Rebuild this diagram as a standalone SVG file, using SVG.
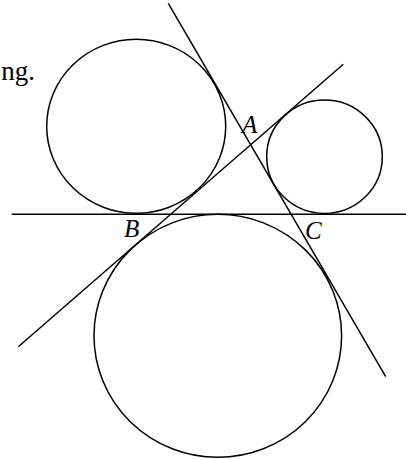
<svg xmlns="http://www.w3.org/2000/svg" width="406" height="459" viewBox="0 0 406 459">
<style>
.c{fill:none;stroke:#000;stroke-width:1.5}
.l{fill:none;stroke:#000;stroke-width:1.5}
.t{font-family:"Liberation Serif",serif;font-size:25px;fill:#000}
.i{font-style:italic}
</style>
<rect width="406" height="459" fill="#fff"/>
<text class="t" x="35" y="80" text-anchor="end" style="font-size:27px">ng.</text>
<g id="circle-left"><ellipse class="c" cx="136.2" cy="126.3" rx="89.5" ry="87"/></g>
<g id="circle-right"><ellipse class="c" cx="324.5" cy="156.7" rx="57.8" ry="56.7"/></g>
<g id="circle-bottom"><ellipse class="c" cx="217.8" cy="335.8" rx="123.8" ry="121.5"/></g>
<g id="lines">
<line class="l" x1="11.7" y1="214.3" x2="406" y2="214.3"/>
<line class="l" x1="168.3" y1="3.3" x2="385.7" y2="376.7"/>
<line class="l" x1="18.3" y1="346.7" x2="343.3" y2="64.3"/>
</g>
<g id="label-A"><text class="t i" x="242" y="133">A</text></g>
<g id="label-B"><text class="t i" x="124" y="237">B</text></g>
<g id="label-C"><text class="t i" x="305" y="239">C</text></g>
</svg>
